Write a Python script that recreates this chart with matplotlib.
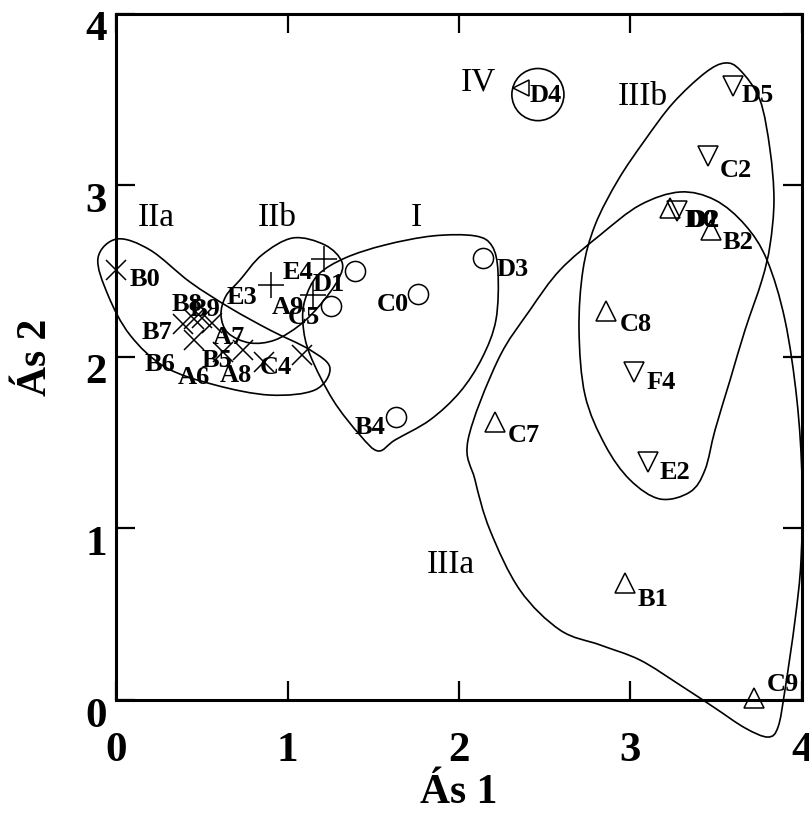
import matplotlib
matplotlib.use("Agg")
import matplotlib.pyplot as plt
from matplotlib.path import Path
from matplotlib.patches import PathPatch, Circle
from matplotlib.transforms import ScaledTranslation
import numpy as np

# Sample scores on the first two axes
names = ['B0', 'B7', 'B8', 'B9', 'A7', 'B6', 'A6', 'B5', 'A8', 'C4',
         'E4', 'E3', 'A9',
         'D1', 'C5', 'C0', 'D3', 'B4',
         'C7', 'B1', 'C9', 'C8', 'B2', 'D0',
         'D2', 'D5', 'C2', 'F4', 'E2',
         'D4']
as1 = [0.00, 0.39, 0.45, 0.50, 0.56, 0.45, 0.62, 0.74, 0.86, 1.08,
       1.21, 0.90, 1.15,
       1.39, 1.25, 1.76, 2.14, 1.63,
       2.21, 2.97, 3.72, 2.86, 3.47, 3.23,
       3.27, 3.60, 3.45, 3.02, 3.10,
       2.36]
as2 = [2.51, 2.19, 2.22, 2.23, 2.20, 2.10, 2.03, 2.04, 1.97, 2.01,
       2.57, 2.42, 2.36,
       2.50, 2.30, 2.37, 2.58, 1.65,
       1.62, 0.68, 0.01, 2.27, 2.74, 2.87,
       2.85, 3.58, 3.17, 1.91, 1.39,
       3.57]
groups = ['IIa'] * 10 + ['IIb'] * 3 + ['I'] * 5 + ['IIIa'] * 6 + ['IIIb'] * 5 + ['IV']

# where each sample name was written (left edge, baseline)
label_pos = {
    'B0': (0.079, 2.415), 'B7': (0.149, 2.106), 'B8': (0.324, 2.270),
    'B9': (0.429, 2.241), 'A7': (0.563, 2.077), 'B6': (0.166, 1.920),
    'A6': (0.359, 1.844), 'B5': (0.499, 1.943), 'A8': (0.604, 1.856),
    'C4': (0.838, 1.902), 'E4': (0.972, 2.456), 'E3': (0.645, 2.311),
    'A9': (0.908, 2.252), 'D1': (1.147, 2.386), 'C5': (1.001, 2.194),
    'C0': (1.521, 2.270), 'D3': (2.221, 2.474), 'B4': (1.392, 1.552),
    'C7': (2.285, 1.506), 'B1': (3.044, 0.550), 'C9': (3.797, 0.054),
    'C8': (2.939, 2.153), 'B2': (3.541, 2.631), 'D0': (3.319, 2.759),
    'D2': (3.336, 2.759), 'D5': (3.651, 3.488), 'C2': (3.523, 3.051),
    'F4': (3.097, 1.815), 'E2': (3.173, 1.290), 'D4': (2.414, 3.488),
}

# hand drawn group outlines
outline_IIa = [(-0.108, 2.577), (0.003, 2.688), (0.196, 2.624), (0.429, 2.437),
               (0.663, 2.286), (0.896, 2.157), (1.130, 2.041), (1.246, 1.936),
               (1.159, 1.808), (0.896, 1.778), (0.575, 1.837), (0.283, 1.942),
               (0.079, 2.128), (-0.050, 2.362)]
outline_IIb = [(0.721, 2.449), (0.849, 2.595), (1.030, 2.694), (1.217, 2.653),
               (1.316, 2.554), (1.293, 2.449), (1.188, 2.303), (1.071, 2.187),
               (0.925, 2.099), (0.779, 2.082), (0.651, 2.140), (0.610, 2.245),
               (0.639, 2.356)]
outline_I = [(1.100, 2.332), (1.176, 2.478), (1.334, 2.577), (1.567, 2.653),
             (1.848, 2.706), (2.093, 2.706), (2.192, 2.647), (2.227, 2.496),
             (2.215, 2.216), (2.134, 1.994), (2.005, 1.796), (1.830, 1.633),
             (1.626, 1.516), (1.527, 1.452), (1.421, 1.545), (1.264, 1.749),
             (1.130, 2.012), (1.089, 2.187)]
outline_IIIa = [(2.052, 1.516), (2.227, 1.983), (2.414, 2.274), (2.589, 2.507),
                (2.823, 2.711), (3.056, 2.886), (3.290, 2.962), (3.494, 2.915),
                (3.669, 2.770), (3.797, 2.566), (3.902, 2.216), (3.972, 1.749),
                (4.002, 1.283), (3.996, 0.816), (3.961, 0.466), (3.902, 0.058),
                (3.862, -0.157), (3.803, -0.216), (3.669, -0.163), (3.494, -0.047),
                (3.290, 0.087), (3.056, 0.233), (2.823, 0.321), (2.589, 0.408),
                (2.355, 0.641), (2.180, 0.991), (2.093, 1.283)]
outline_IIIb = [(3.552, 3.714), (3.640, 3.673), (3.756, 3.499), (3.815, 3.207),
                (3.838, 2.915), (3.815, 2.653), (3.768, 2.449), (3.669, 2.157),
                (3.582, 1.866), (3.494, 1.574), (3.435, 1.341), (3.348, 1.213),
                (3.173, 1.172), (2.998, 1.283), (2.852, 1.487), (2.735, 1.778),
                (2.700, 2.157), (2.723, 2.507), (2.794, 2.770), (2.928, 3.032),
                (3.085, 3.265), (3.249, 3.481), (3.435, 3.656)]

group_titles = {'IIa': (0.23, 2.81), 'IIb': (0.94, 2.81), 'I': (1.75, 2.81),
                'IIIa': (1.95, 0.79), 'IIIb': (3.07, 3.52), 'IV': (2.11, 3.60)}

markers = {'IIa': 'x', 'IIb': '+', 'I': 'o', 'IIIa': '^', 'IIIb': 'v', 'IV': '<'}
msizes = {'IIa': 14, 'IIb': 19, 'I': 14.5, 'IIIa': 15, 'IIIb': 15, 'IV': 11}

SERIF = 'Liberation Serif'


def smooth_closed(pts):
    """Closed Catmull-Rom curve through the outline points, as bezier path"""
    pts = np.asarray(pts, dtype=float)
    n = len(pts)
    verts = [pts[0]]
    codes = [Path.MOVETO]
    for i in range(n):
        p0, p1, p2, p3 = pts[i - 1], pts[i], pts[(i + 1) % n], pts[(i + 2) % n]
        verts += [p1 + (p2 - p0) / 6, p2 - (p3 - p1) / 6, p2]
        codes += [Path.CURVE4] * 3
    return Path(verts, codes)


fig = plt.figure(figsize=(8.09, 8.17), dpi=100)
ax = fig.add_axes([0.144, 0.1432, 0.847, 0.8397])

# points
for g in markers:
    xs = [x for x, gg in zip(as1, groups) if gg == g]
    ys = [y for y, gg in zip(as2, groups) if gg == g]
    ax.plot(xs, ys, linestyle='none', marker=markers[g], ms=msizes[g],
            mfc='none', mec='black', mew=1.1, clip_on=False, zorder=3)

for n in names:
    x, y = label_pos[n]
    ax.text(x, y, n, fontsize=19, fontweight='bold', family=SERIF,
            ha='left', va='baseline', zorder=4)

# outlines
for outline in [outline_IIa, outline_IIb, outline_I, outline_IIIa, outline_IIIb]:
    ax.add_patch(PathPatch(smooth_closed(outline), fill=False, lw=1.2,
                           ec='black', clip_on=False))
d4 = names.index('D4')
ax.add_patch(Circle((as1[d4] + 0.10, as2[d4] - 0.04), 0.152, fill=False,
                    lw=1.2, ec='black', clip_on=False))

for g, (x, y) in group_titles.items():
    ax.text(x, y, g, fontsize=24, family=SERIF, ha='center', va='center')

ax.set_xlim(0, 4)
ax.set_ylim(0, 4)
ax.set_xticks([0, 1, 2, 3, 4])
ax.set_yticks([0, 1, 2, 3, 4])
ax.tick_params(direction='in', length=14, width=1.6, top=True, right=True,
               labelsize=31)
ax.tick_params(axis='x', pad=23)
ax.tick_params(axis='y', pad=7)
for lab in ax.get_xticklabels() + ax.get_yticklabels():
    lab.set_family(SERIF)
    lab.set_fontweight('bold')
for t in ax.yaxis.get_major_ticks():
    t.label1.set_transform(t.label1.get_transform() +
                           ScaledTranslation(0, -0.12, fig.dpi_scale_trans))
for s in ax.spines.values():
    s.set_linewidth(2.2)

ax.set_xlabel('Ás 1', fontsize=30, fontweight='bold', family=SERIF, labelpad=3)
ax.set_ylabel('Ás 2', fontsize=30, fontweight='bold', family=SERIF, labelpad=22)

fig.savefig('out.png', dpi=100)
